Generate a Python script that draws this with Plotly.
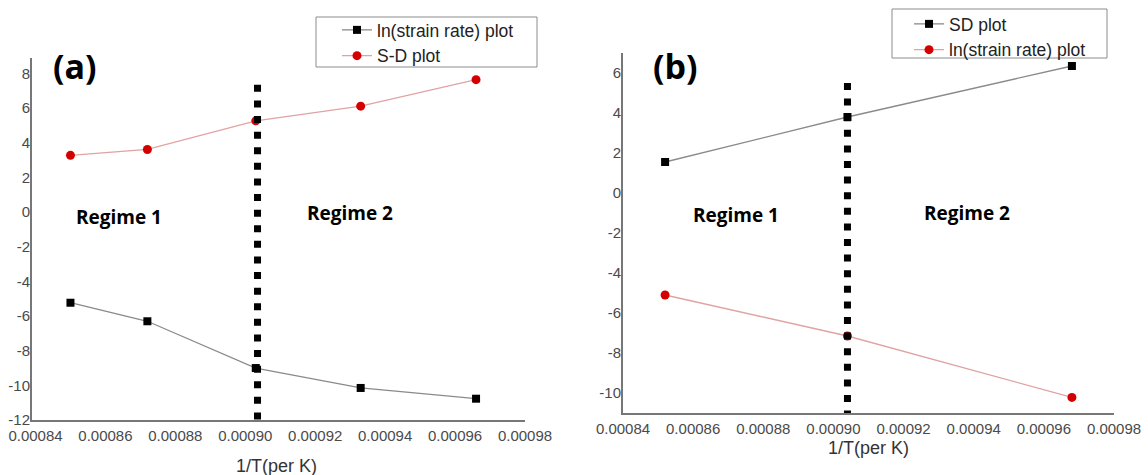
import plotly.graph_objects as go

# ---------------- data ----------------
# Panel (a)
inv_T_a = [0.000850, 0.000872, 0.000903, 0.000933, 0.000966]
ln_strain_rate_a = [-5.23, -6.30, -9.00, -10.15, -10.77]
sd_a = [3.28, 3.62, 5.27, 6.12, 7.65]
boundary_a = 0.0009035
boundary_a_y = [7.35, -12.0]

# Panel (b)
inv_T_b = [0.000852, 0.000904, 0.000968]
sd_b = [1.55, 3.80, 6.35]
ln_strain_rate_b = [-5.10, -7.15, -10.22]
boundary_b = 0.0009040
boundary_b_y = [5.5, -11.0]

x_ticks = [0.00084, 0.00086, 0.00088, 0.00090, 0.00092, 0.00094, 0.00096, 0.00098]
x_tick_text = ["0.00084", "0.00086", "0.00088", "0.00090", "0.00092", "0.00094", "0.00096", "0.00098"]
y_ticks_a = [8, 6, 4, 2, 0, -2, -4, -6, -8, -10, -12]
y_ticks_b = [6, 4, 2, 0, -2, -4, -6, -8, -10]

# ---------------- layout helpers ----------------
W, H = 1148, 475
def px(x):
    return x / W
def py(y):
    return 1 - y / H

BLACK_LINE = "#8a8a8a"
RED_LINE = "#e0a3a3"
RED = "#d40000"
AX = "#777777"
TICKFONT = dict(family="Arial, Liberation Sans", size=15, color="#4a4a4a")
LEGFONT = dict(family="Arial, Liberation Sans", size=17.5, color="#222222")

fig = go.Figure()

# Panel (a)
fig.add_trace(go.Scatter(x=inv_T_a, y=ln_strain_rate_a, mode="lines+markers",
                         name="ln(strain rate) plot", legend="legend",
                         line=dict(color=BLACK_LINE, width=1.3),
                         marker=dict(symbol="square", size=8, color="black"),
                         xaxis="x", yaxis="y"))
fig.add_trace(go.Scatter(x=inv_T_a, y=sd_a, mode="lines+markers",
                         name="S-D plot", legend="legend",
                         line=dict(color=RED_LINE, width=1.3),
                         marker=dict(symbol="circle", size=9, color=RED),
                         xaxis="x", yaxis="y"))
fig.add_trace(go.Scatter(x=[boundary_a, boundary_a], y=boundary_a_y, mode="lines",
                         showlegend=False, hoverinfo="skip",
                         line=dict(color="black", width=7, dash="7px,8.6px"),
                         xaxis="x", yaxis="y", cliponaxis=False))

# Panel (b)
fig.add_trace(go.Scatter(x=inv_T_b, y=sd_b, mode="lines+markers",
                         name="SD plot", legend="legend2",
                         line=dict(color=BLACK_LINE, width=1.3),
                         marker=dict(symbol="square", size=8, color="black"),
                         xaxis="x2", yaxis="y2"))
fig.add_trace(go.Scatter(x=inv_T_b, y=ln_strain_rate_b, mode="lines+markers",
                         name="ln(strain rate) plot", legend="legend2",
                         line=dict(color=RED_LINE, width=1.3),
                         marker=dict(symbol="circle", size=9, color=RED),
                         xaxis="x2", yaxis="y2"))
fig.add_trace(go.Scatter(x=[boundary_b, boundary_b], y=boundary_b_y, mode="lines",
                         showlegend=False, hoverinfo="skip",
                         line=dict(color="black", width=7, dash="7px,8.6px"),
                         xaxis="x2", yaxis="y2", cliponaxis=False))

common_x = dict(tickvals=x_ticks, ticktext=x_tick_text, showgrid=False, zeroline=False,
                showline=True, linecolor=AX, linewidth=2, ticks="", tickfont=TICKFONT,
                automargin=False, ticklabelstandoff=1)
common_y = dict(showgrid=False, zeroline=False, showline=True, linecolor=AX, linewidth=2,
                ticks="", tickfont=TICKFONT, ticklabelstandoff=-3, automargin=False)

fig.update_layout(
    template="none",
    width=W, height=H,
    margin=dict(l=0, r=0, t=0, b=0, autoexpand=False),
    paper_bgcolor="white", plot_bgcolor="white",
    xaxis=dict(domain=[px(32), px(525)], range=[0.000839, 0.00098], anchor="y", **common_x),
    yaxis=dict(domain=[py(420), py(58)], range=[-12, 8.9], tickvals=y_ticks_a,
               ticktext=[str(v) for v in y_ticks_a], anchor="x", **common_y),
    xaxis2=dict(domain=[px(623), px(1114)], range=[0.00084, 0.00098], anchor="y2", **common_x),
    yaxis2=dict(domain=[py(413), py(53)], range=[-11, 7], tickvals=y_ticks_b,
                ticktext=[str(v) for v in y_ticks_b], anchor="x2", **common_y),
    legend=dict(x=px(337), y=py(12), xanchor="left", yanchor="top",
                bgcolor="rgba(0,0,0,0)", borderwidth=0, font=LEGFONT, tracegroupgap=0),
    legend2=dict(x=px(909), y=py(6), xanchor="left", yanchor="top",
                 bgcolor="rgba(0,0,0,0)", borderwidth=0, font=LEGFONT, tracegroupgap=0),
    showlegend=True,
)

# legend frames
for (x0, y0, x1, y1) in [(316, 17, 537, 67), (892, 9, 1107, 58)]:
    fig.add_shape(type="rect", xref="paper", yref="paper",
                  x0=px(x0), y0=py(y1), x1=px(x1), y1=py(y0),
                  line=dict(color="#8c8c8c", width=1), fillcolor="rgba(0,0,0,0)",
                  layer="above")

BOLD = "Open Sans"
ann = [
    dict(text="<b>(a)</b>", x=px(75), y=py(66), font=dict(family=BOLD, size=34, color="black")),
    dict(text="<b>(b)</b>", x=px(675), y=py(66), font=dict(family=BOLD, size=34, color="black")),
    dict(text="<b>Regime 1</b>", x=px(119), y=py(217), font=dict(family=BOLD, size=19, color="black")),
    dict(text="<b>Regime 2</b>", x=px(350), y=py(213), font=dict(family=BOLD, size=19, color="black")),
    dict(text="<b>Regime 1</b>", x=px(736), y=py(215), font=dict(family=BOLD, size=19, color="black")),
    dict(text="<b>Regime 2</b>", x=px(967), y=py(213), font=dict(family=BOLD, size=19, color="black")),
    dict(text="1/T(per K)", x=px(276), y=py(466), font=dict(family="Arial, Liberation Sans", size=18, color="#333333")),
    dict(text="1/T(per K)", x=px(868), y=py(448), font=dict(family="Arial, Liberation Sans", size=18, color="#333333")),
]
for a in ann:
    fig.add_annotation(xref="paper", yref="paper", showarrow=False,
                       xanchor="center", yanchor="middle", **a)

fig.write_html("out.html", config={"displayModeBar": False},
               post_script="document.body.style.margin='0';document.body.style.padding='0';"
                           "document.documentElement.style.overflow='hidden';")
